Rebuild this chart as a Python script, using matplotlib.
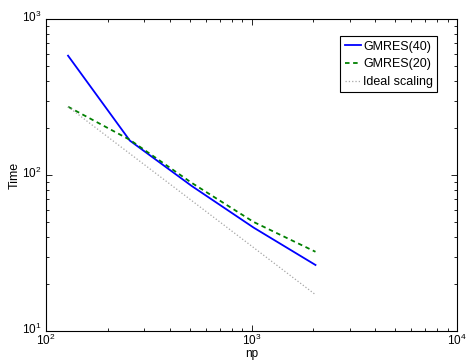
import matplotlib
matplotlib.use("Agg")
import matplotlib.pyplot as plt
from matplotlib.ticker import LogLocator, NullFormatter
from matplotlib.transforms import ScaledTranslation

plt.rcParams['font.family'] = ['Liberation Sans', 'DejaVu Sans']

np_procs = [128, 256, 512, 1024, 2048]
gmres40 = [582, 166, 85, 46, 26.5]
gmres20 = [274, 168, 89, 50, 32.2]
ideal = [274, 137, 68.5, 34.25, 17.1]

fig = plt.figure(figsize=(4.66, 3.6), dpi=100)
ax = fig.add_axes([46/466, 1-331/360, (457-46)/466, (331-19)/360])

ax.plot(np_procs, gmres40, '-', color=(0, 0, 1), lw=1.3, label='GMRES(40)')
ax.plot(np_procs, gmres20, '--', color=(0, 0.5, 0), lw=1.3, label='GMRES(20)', dashes=(2.5, 2))
ax.plot(np_procs, ideal, ':', color=(0.65, 0.65, 0.65), lw=0.9, label='Ideal scaling')

ax.set_xscale('log')
ax.set_yscale('log')
ax.set_xlim(100, 10000)
ax.set_ylim(10, 1000)
ax.set_xlabel('np', fontsize=8.5, labelpad=0)
ax.set_ylabel('Time', fontsize=9, labelpad=1)

ax.tick_params(which='both', direction='in', top=True, right=True, labelsize=8.5, width=0.6)
ax.tick_params(which='major', length=4)
ax.tick_params(axis='x', which='major', pad=1.5)
ax.tick_params(axis='y', which='major', pad=3)
ax.tick_params(which='minor', length=2)
ax.xaxis.set_minor_locator(LogLocator(base=10, subs=range(2, 10)))
ax.yaxis.set_minor_locator(LogLocator(base=10, subs=range(2, 10)))
ax.xaxis.set_minor_formatter(NullFormatter())
ax.yaxis.set_minor_formatter(NullFormatter())
for s in ax.spines.values():
    s.set_linewidth(0.8)

fig.canvas.draw()
shift = ScaledTranslation(0, 3/100, fig.dpi_scale_trans)
for lab in ax.yaxis.get_majorticklabels():
    lab.set_transform(lab.get_transform() + shift)

leg = ax.legend(loc='upper right', bbox_to_anchor=(0.952, 0.944), fontsize=9,
                handlelength=1.3, handletextpad=0.15, borderpad=0.35,
                labelspacing=0.45, fancybox=False, framealpha=1, borderaxespad=0)
leg.get_frame().set_edgecolor('black')
leg.get_frame().set_linewidth(0.8)

fig.savefig('out.png', dpi=100)
